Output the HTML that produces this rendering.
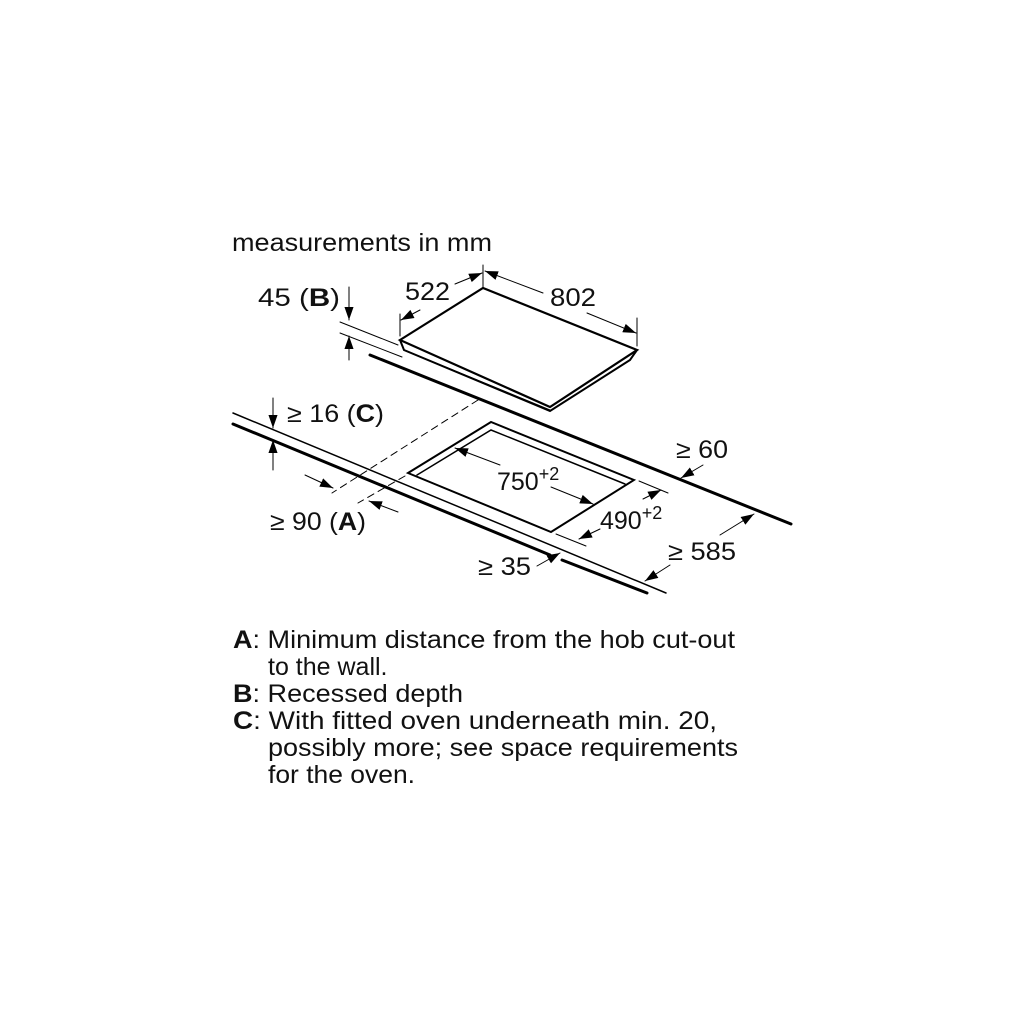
<!DOCTYPE html>
<html><head><style>
body{margin:0;background:#fff;}
svg{display:block}
text{font-family:"Liberation Sans",Arial,sans-serif;fill:#111;}
</style></head><body>
<svg width="1024" height="1024" viewBox="0 0 1024 1024" xmlns="http://www.w3.org/2000/svg">
<defs>
<marker id="a" viewBox="0 0 10 10" refX="10" refY="5" markerWidth="13" markerHeight="13" orient="auto" markerUnits="userSpaceOnUse"><path d="M0,1.5 L10,5 L0,8.5z" fill="#000"/></marker>
</defs>
<g font-size="25">
<text x="232" y="251" textLength="260" lengthAdjust="spacingAndGlyphs">measurements in mm</text>
<text x="258" y="306" textLength="82" lengthAdjust="spacingAndGlyphs">45 (<tspan font-weight="bold">B</tspan>)</text>
<text x="405" y="300" textLength="45" lengthAdjust="spacingAndGlyphs">522</text>
<text x="550" y="306" textLength="46" lengthAdjust="spacingAndGlyphs">802</text>
<text x="287" y="422" textLength="97" lengthAdjust="spacingAndGlyphs">≥ 16 (<tspan font-weight="bold">C</tspan>)</text>
<text x="676" y="458" textLength="52" lengthAdjust="spacingAndGlyphs">≥ 60</text>
<text x="497" y="490">750<tspan font-size="18" dy="-10">+2</tspan></text>
<text x="600" y="529">490<tspan font-size="18" dy="-10">+2</tspan></text>
<text x="270" y="530" textLength="96" lengthAdjust="spacingAndGlyphs">≥ 90 (<tspan font-weight="bold">A</tspan>)</text>
<text x="668" y="560" textLength="68" lengthAdjust="spacingAndGlyphs">≥ 585</text>
<text x="478" y="575" textLength="53" lengthAdjust="spacingAndGlyphs">≥ 35</text>
</g>
<g font-size="25">
<text x="233" y="648" textLength="502" lengthAdjust="spacingAndGlyphs"><tspan font-weight="bold">A</tspan>: Minimum distance from the hob cut-out</text>
<text x="268" y="675">to the wall.</text>
<text x="233" y="702" textLength="230" lengthAdjust="spacingAndGlyphs"><tspan font-weight="bold">B</tspan>: Recessed depth</text>
<text x="233" y="729" textLength="484" lengthAdjust="spacingAndGlyphs"><tspan font-weight="bold">C</tspan>: With fitted oven underneath min. 20,</text>
<text x="268" y="756" textLength="470" lengthAdjust="spacingAndGlyphs">possibly more; see space requirements</text>
<text x="268" y="783" textLength="147" lengthAdjust="spacingAndGlyphs">for the oven.</text>
</g>
<g stroke="#000" fill="none" stroke-linecap="round">
<path d="M400,340 L483,288 L637,350 L550,407 Z" stroke-width="2.2" fill="#fff"/>
<path d="M400,340 L404,350 L550,411 L630,360 L637,350" stroke-width="2"/>
<path d="M404,350 L550,410" stroke-width="1.2"/>
<line x1="370" y1="355" x2="791" y2="524" stroke-width="3"/>
<line x1="233" y1="413" x2="666" y2="593" stroke-width="1.5"/>
<line x1="233" y1="424" x2="550" y2="555" stroke-width="3"/>
<line x1="562" y1="560" x2="647" y2="593" stroke-width="3"/>
<path d="M408,473 L491,422 L634,480 L551,532 Z" stroke-width="2"/>
<path d="M417,475 L491,430 L625,484" stroke-width="1.5"/>
<line x1="478" y1="400" x2="332" y2="493" stroke-width="1" stroke-dasharray="7,5"/>
<line x1="405" y1="476" x2="358" y2="503" stroke-width="1" stroke-dasharray="7,5"/>
<line x1="340" y1="322" x2="398" y2="345" stroke-width="1"/>
<line x1="340" y1="333" x2="402" y2="357" stroke-width="1"/>
<line x1="349" y1="287" x2="349" y2="320" stroke-width="1" marker-end="url(#a)"/>
<line x1="349" y1="360" x2="349" y2="336" stroke-width="1" marker-end="url(#a)"/>
<line x1="483" y1="265" x2="483" y2="288" stroke-width="1"/>
<line x1="400" y1="314" x2="400" y2="336" stroke-width="1"/>
<line x1="637" y1="318" x2="637" y2="346" stroke-width="1"/>
<line x1="455" y1="284" x2="482" y2="273" stroke-width="1" marker-end="url(#a)"/>
<line x1="420" y1="310" x2="401" y2="320" stroke-width="1" marker-end="url(#a)"/>
<line x1="543" y1="293" x2="485" y2="271" stroke-width="1" marker-end="url(#a)"/>
<line x1="587" y1="313" x2="636" y2="333" stroke-width="1" marker-end="url(#a)"/>
<line x1="273" y1="398" x2="273" y2="428" stroke-width="1" marker-end="url(#a)"/>
<line x1="273" y1="470" x2="273" y2="440" stroke-width="1" marker-end="url(#a)"/>
<line x1="305" y1="475" x2="333" y2="488" stroke-width="1" marker-end="url(#a)"/>
<line x1="398" y1="512" x2="369" y2="501" stroke-width="1" marker-end="url(#a)"/>
<line x1="500" y1="465" x2="455" y2="448" stroke-width="1" marker-end="url(#a)"/>
<line x1="551" y1="487" x2="593" y2="504" stroke-width="1" marker-end="url(#a)"/>
<line x1="639" y1="481" x2="668" y2="493" stroke-width="1"/>
<line x1="556" y1="534" x2="586" y2="546" stroke-width="1"/>
<line x1="643" y1="499" x2="661" y2="490" stroke-width="1" marker-end="url(#a)"/>
<line x1="600" y1="529" x2="579" y2="539" stroke-width="1" marker-end="url(#a)"/>
<line x1="703" y1="465" x2="681" y2="478" stroke-width="1" marker-end="url(#a)"/>
<line x1="720" y1="535" x2="754" y2="514" stroke-width="1" marker-end="url(#a)"/>
<line x1="670" y1="565" x2="645" y2="581" stroke-width="1" marker-end="url(#a)"/>
<line x1="537" y1="566" x2="560" y2="553" stroke-width="1" marker-end="url(#a)"/>
</g>
</svg>
</body></html>
